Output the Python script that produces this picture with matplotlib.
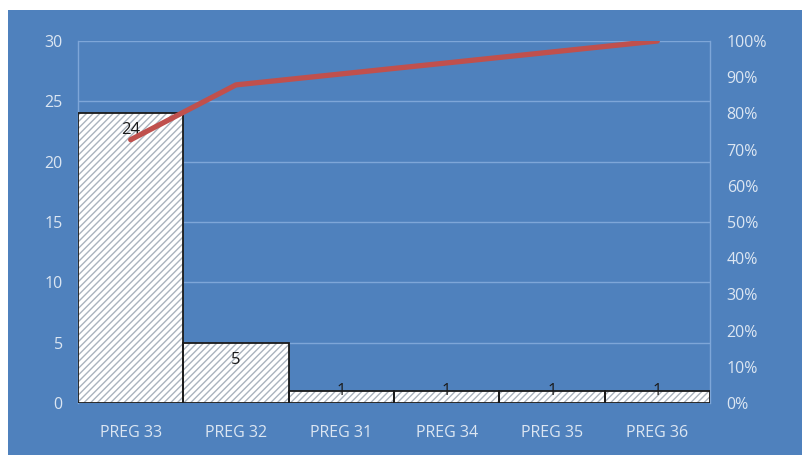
import matplotlib.pyplot as plt
from matplotlib.patches import Rectangle
from matplotlib.ticker import PercentFormatter

# Pareto data: counts per question
categories = ['PREG 33', 'PREG 32', 'PREG 31', 'PREG 34', 'PREG 35', 'PREG 36']
counts = [24, 5, 1, 1, 1, 1]

total = sum(counts)
cum_pct = []
running = 0
for c in counts:
    running += c
    cum_pct.append(running / total * 100)

bg = '#4f81bd'
grid_col = '#7ea6d8'
txt_col = '#dce6f2'

plt.rcParams['font.family'] = ['Open Sans', 'DejaVu Sans']
plt.rcParams['hatch.linewidth'] = 1.0

fig = plt.figure(figsize=(8.03, 4.55), dpi=100)
fig.patch.set_facecolor('white')
fig.patches.append(Rectangle((8 / 803, 0), 1, 445 / 455, transform=fig.transFigure,
                             facecolor=bg, edgecolor='none', zorder=-10))

ax = fig.add_axes([78 / 803, 52 / 455, 632 / 803, 362 / 455])
ax.set_facecolor(bg)
ax.patch.set_alpha(0)

x = list(range(len(categories)))
# hatched fill (hatch takes the edge colour), then a dark outline on top
ax.bar(x, counts, width=1.0, color='white', edgecolor='#aab3be',
       hatch='/////', linewidth=0, zorder=3)
ax.bar(x, counts, width=1.0, color='none', edgecolor='#1a1a1a',
       linewidth=1.3, zorder=4)
ax.set_xlim(-0.5, len(categories) - 0.5)
ax.set_ylim(0, 30)
ax.set_yticks(range(0, 31, 5))
ax.set_xticks(x)
ax.set_xticklabels(categories)
ax.yaxis.grid(True, color=grid_col, linewidth=1.0, zorder=0)
ax.set_axisbelow(True)
for s in ['top', 'bottom']:
    ax.spines[s].set_visible(False)
for s in ['left', 'right']:
    ax.spines[s].set_color(grid_col)
    ax.spines[s].set_linewidth(1.0)
ax.tick_params(axis='both', length=0, colors=txt_col, labelsize=11.5)
ax.tick_params(axis='y', pad=11)
ax.tick_params(axis='x', pad=16)

# value labels near the bar tops
for xi, v in zip(x, counts):
    ly = v - 1.4 if v > 3 else v
    ax.text(xi, ly, str(v), ha='center', va='center', fontsize=12,
            color='#1a1a1a', zorder=6)

ax2 = ax.twinx()
ax2.plot(x, cum_pct, color='#c0504d', linewidth=3.8, solid_capstyle='round', zorder=5)
ax2.set_ylim(0, 100)
ax2.set_yticks(range(0, 101, 10))
ax2.yaxis.set_major_formatter(PercentFormatter(decimals=0))
for s in ax2.spines.values():
    s.set_visible(False)
ax2.tick_params(axis='y', length=0, colors=txt_col, labelsize=11.5, pad=12)

fig.savefig('out.png', dpi=100, facecolor='white')
